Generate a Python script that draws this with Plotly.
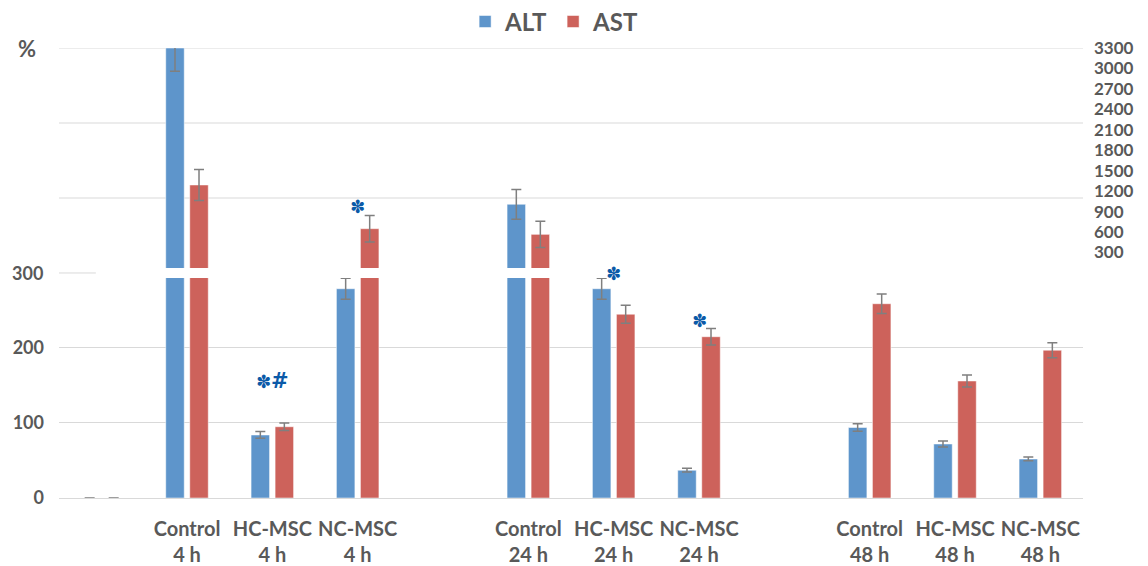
import plotly.graph_objects as go

# ---------------- data ----------------
categories = ["", "Control<br>4 h", "HC-MSC<br>4 h", "NC-MSC<br>4 h", "",
              "Control<br>24 h", "HC-MSC<br>24 h", "NC-MSC<br>24 h", "",
              "Control<br>48 h", "HC-MSC<br>48 h", "NC-MSC<br>48 h"]
alt_values = [0, 3300, 84, 279, None, 1008, 279, 37, None, 94, 72, 52]
alt_errors = [0, 340, 4.5, 14, None, 218, 14, 2.5, None, 5, 4, 2.5]
ast_values = [0, 1291, 95, 650, None, 567, 245, 215, None, 259, 156, 197]
ast_errors = [0, 227, 5, 195, None, 193, 12, 11, None, 13, 8, 10]
series_names = ["ALT", "AST"]
lower_ticks = [0, 100, 200]
break_value = 300
upper_ticks = list(range(300, 3301, 300))
upper_grid = [1100, 2200, 3300]
# significance marks: (category index, label, value, panel)
sig_marks = [(2, "✽<span style='font-size:21px'>#</span>", 156, "lower"), (3, "✽", 968, "upper"),
             (6, "✽", 299, "lower"), (7, "✽", 236, "lower")]

# ---------------- styling ----------------
ALT_COLOR = "#5E95CB"
AST_COLOR = "#CD625B"
TXT = "#595959"
GRID = "#D9D9D9"
ERR = "#7F7F7F"
STAR = "#0B5AA8"
FONT = "Lato"

# page body has an 8px margin, so the figure is drawn 8px smaller
W, H = 1140, 558
ML, MR, MT, MB = 51, 65, 40, 68
plot_h = H - MT - MB
lower_dom = [0, 220 / plot_h]
upper_dom = [230 / plot_h, 1]
lower_range = [0, 293.3]
upper_range = [73.3, 3300]

x = list(range(len(categories)))

def upper_only(vals):
    return [v if (v is not None and v > break_value) else None for v in vals]

def upper_err(vals, errs):
    return [e if (v is not None and v > break_value) else None for v, e in zip(vals, errs)]

fig = go.Figure()
for name, vals, errs, col in [("ALT", alt_values, alt_errors, ALT_COLOR),
                              ("AST", ast_values, ast_errors, AST_COLOR)]:
    eb = dict(type="data", array=errs, color=ERR, thickness=1.5, width=5, visible=True)
    fig.add_trace(go.Bar(x=x, y=vals, name=name,
                         marker=dict(color=col, line=dict(color="rgba(255,255,255,0.5)", width=1)),
                         error_y=eb, xaxis="x", yaxis="y", legendgroup=name, showlegend=True))
    eb2 = dict(type="data", array=upper_err(vals, errs), color=ERR, thickness=1.5, width=5, visible=True)
    fig.add_trace(go.Bar(x=x, y=upper_only(vals), name=name,
                         marker=dict(color=col, line=dict(color="rgba(255,255,255,0.5)", width=1)),
                         error_y=eb2, xaxis="x2", yaxis="y2", legendgroup=name, showlegend=False))

tickvals = [i for i, c in enumerate(categories) if c]
ticktext = [c for c in categories if c]

fig.update_layout(
    width=W, height=H,
    margin=dict(l=ML, r=MR, t=MT, b=MB, autoexpand=False),
    paper_bgcolor="white", plot_bgcolor="white",
    barmode="group", bargap=0.437, bargroupgap=0.23,
    font=dict(family=FONT, color=TXT),
    xaxis=dict(domain=[0, 1], anchor="y", range=[-0.5, len(categories) - 0.5],
               tickvals=tickvals, ticktext=ticktext, showgrid=False,
               showline=True, linecolor=GRID, linewidth=1, ticks="",
               tickfont=dict(family=FONT, size=20, color=TXT, weight="bold"),
               ticklabelstandoff=13, automargin=False),
    yaxis=dict(domain=lower_dom, anchor="x", range=lower_range, tickvals=lower_ticks,
               showgrid=True, gridcolor=GRID, gridwidth=1, zeroline=False, ticks="",
               tickfont=dict(family=FONT, size=18, color=TXT, weight="bold"),
               ticklabelstandoff=14, automargin=False),
    xaxis2=dict(domain=[0, 1], anchor="y2", matches="x", visible=False),
    yaxis2=dict(domain=upper_dom, anchor="x2", side="right", range=upper_range,
                tickvals=upper_ticks, showgrid=False, zeroline=False, ticks="",
                tickfont=dict(family=FONT, size=17, color=TXT, weight="bold"),
                ticklabelstandoff=10, automargin=False),
    legend=dict(orientation="h", x=0.484, xanchor="center", y=1.058, yanchor="middle",
                font=dict(family=FONT, size=24, color=TXT, weight="bold"),
                itemwidth=30, bgcolor="rgba(0,0,0,0)"),
)

shapes = []
for g in upper_grid:
    shapes.append(dict(type="line", xref="paper", yref="y2", x0=0, x1=1, y0=g, y1=g,
                       line=dict(color=GRID, width=1), layer="below"))
break_paper = lower_dom[1] * break_value / lower_range[1]
shapes.append(dict(type="line", xref="paper", yref="paper", x0=0, x1=0.036,
                   y0=break_paper, y1=break_paper, line=dict(color=GRID, width=1), layer="below"))
fig.update_layout(shapes=shapes)

annotations = [
    dict(text="%", xref="paper", yref="paper", x=0, xshift=-32, y=1.0, showarrow=False,
         font=dict(family=FONT, size=22, color=TXT, weight="bold"), xanchor="center", yanchor="middle"),
    dict(text=str(break_value), xref="paper", yref="paper", x=0, xshift=-14, y=break_paper,
         showarrow=False, xanchor="right", yanchor="middle",
         font=dict(family=FONT, size=18, color=TXT, weight="bold")),
]
for idx, label, val, panel in sig_marks:
    if panel == "lower":
        yp = lower_dom[1] * val / lower_range[1]
    else:
        yp = upper_dom[0] + (upper_dom[1] - upper_dom[0]) * (val - upper_range[0]) / (upper_range[1] - upper_range[0])
    annotations.append(dict(text=label, xref="x", yref="paper", x=idx, y=yp, showarrow=False,
                            xanchor="center", yanchor="middle",
                            font=dict(family="DejaVu Sans", size=18, color=STAR, weight="bold")))
fig.update_layout(annotations=annotations)

fig.write_html("out.html")
